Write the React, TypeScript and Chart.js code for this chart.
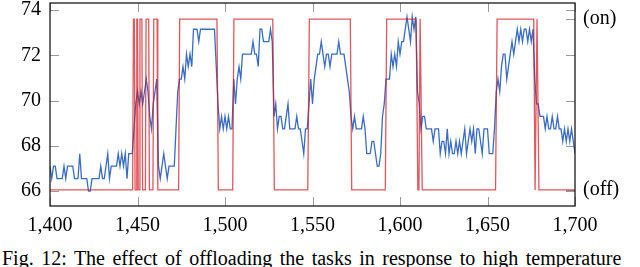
import React, { useEffect, useRef } from 'react';
import { Chart, registerables } from 'chart.js';

Chart.register(...registerables);

// ---- data ----
const xMin = 1400;
const xMax = 1700;
const xTickValues = [1400, 1450, 1500, 1550, 1600, 1650, 1700];
const yMin = 65.34;
const yMax = 74.31;
const yTickValues = [66, 68, 70, 72, 74];
const stateOn = 73.6;
const stateOff = 66.05;
const stateLabelOn = '(on)';
const stateLabelOff = '(off)';

// temperature samples, one per step starting at tempStart
const tempStart = 1400;
const temperature = [
  67.1, 66.55, 67.1, 67.1, 66.55, 66.55, 66.55, 66.55, 67.1, 66.55,
  67.1, 67.1, 67.1, 67.1, 66.55, 66.55, 66.55, 67.65, 66.55, 66.55,
  66.55, 66.55, 66.0, 66.0, 66.55, 66.55, 66.55, 66.55, 66.55, 67.1,
  66.55, 66.55, 67.1, 67.65, 66.55, 67.1, 67.1, 67.1, 67.1, 67.65,
  67.1, 67.65, 67.1, 67.65, 66.55, 67.65, 67.65, 67.65, 68.75, 69.85,
  70.4, 69.85, 70.4, 69.85, 70.4, 70.95, 70.4, 69.3, 68.75, 69.85,
  70.4, 70.95, 67.1, 66.55, 67.1, 67.65, 67.1, 66.55, 67.1, 67.1,
  67.1, 67.1, 68.75, 70.4, 70.95, 70.95, 71.5, 70.95, 72.05, 71.5,
  72.05, 71.5, 73.15, 73.15, 73.15, 72.6, 73.15, 73.15, 73.15, 73.15,
  73.15, 73.15, 73.15, 73.15, 73.15, 71.5, 69.85, 68.75, 69.3, 68.75,
  69.3, 68.75, 69.3, 68.75, 68.75, 70.95, 69.85, 70.95, 71.5, 70.95,
  72.05, 72.05, 72.05, 72.05, 72.05, 72.05, 72.6, 72.05, 72.05, 71.5,
  73.15, 73.15, 72.6, 72.6, 72.6, 72.6, 73.15, 72.6, 69.3, 69.85,
  68.75, 69.3, 69.3, 68.75, 68.75, 69.3, 69.85, 68.75, 68.75, 68.75,
  68.75, 69.3, 68.75, 68.75, 68.2, 67.65, 68.75, 68.75, 69.85, 70.95,
  69.85, 70.95, 71.5, 72.05, 72.05, 72.6, 72.05, 71.5, 72.05, 72.05,
  71.5, 72.05, 72.05, 72.05, 72.05, 72.6, 72.05, 72.05, 72.05, 71.5,
  70.95, 70.4, 69.3, 68.75, 69.3, 68.75, 68.75, 68.75, 68.75, 69.3,
  68.75, 67.65, 67.65, 67.65, 68.2, 68.2, 67.65, 67.1, 67.1, 67.65,
  69.3, 69.85, 70.95, 70.95, 70.95, 72.05, 71.5, 72.05, 71.5, 72.6,
  72.05, 72.6, 72.6, 73.15, 73.7, 73.15, 72.6, 73.7, 73.15, 73.7,
  70.4, 69.85, 68.75, 69.3, 69.3, 68.75, 68.75, 68.75, 68.75, 68.2,
  68.75, 68.75, 68.75, 67.65, 68.2, 68.2, 67.65, 68.75, 67.65, 68.2,
  67.65, 67.65, 68.2, 67.65, 68.2, 67.65, 68.2, 68.75, 67.65, 68.2,
  68.75, 68.2, 68.75, 67.65, 68.75, 68.75, 68.2, 67.65, 68.75, 68.75,
  68.75, 67.65, 67.65, 67.65, 68.75, 70.4, 70.95, 70.4, 71.5, 72.05,
  72.05, 70.95, 71.5, 72.05, 72.6, 72.05, 72.6, 73.15, 72.6, 73.15,
  72.6, 73.15, 73.15, 72.6, 73.15, 72.6, 73.15, 70.95, 69.85, 69.85,
  69.3, 69.3, 69.3, 68.75, 69.3, 68.75, 68.75, 69.3, 68.75, 68.75,
  69.3, 68.75, 68.75, 68.2, 68.75, 68.2, 68.75, 68.2, 68.75, 68.2,
  67.65,
];

// offloading switch: x positions and state (1 = on, 0 = off)
const switchX = [
  1400, 1447.2, 1447.7, 1448.2, 1448.6, 1449.2, 1449.6, 1450.0, 1450.4, 1451.0,
  1451.4, 1452.5, 1452.9, 1454.5, 1454.9, 1456.4, 1456.8, 1458.8, 1459.3, 1461.2,
  1461.6, 1473.5, 1474.1, 1495.4, 1496.2, 1504.4, 1505.1, 1527.3, 1528.2, 1547.3,
  1548.2, 1571.6, 1572.4, 1591.6, 1592.4, 1609.2, 1610.2, 1610.8, 1611.5, 1611.9,
  1612.7, 1654.6, 1655.5, 1676.4, 1677.2, 1677.6, 1678.3, 1678.6, 1679.4, 1700,
];
const switchState = [
  0, 0, 1, 1, 0, 0, 1, 1, 0, 0,
  1, 1, 0, 0, 1, 1, 0, 0, 1, 1,
  0, 0, 1, 1, 0, 0, 1, 1, 0, 0,
  1, 1, 0, 0, 1, 1, 0, 0, 1, 1,
  0, 0, 1, 1, 0, 0, 1, 1, 0, 0,
];

const caption = 'Fig. 12: The effect of offloading the tasks in response to high temperature';

const FONT = "'Liberation Serif', 'Times New Roman', serif";

const framePlugin = {
  id: 'pgfFrame',
  beforeDatasetsDraw(chart: any) {
    const { ctx, chartArea: a, scales } = chart;
    const xs = scales.x;
    const ys = scales.y;
    const len = 9;
    ctx.save();
    ctx.strokeStyle = '#9a9a9a';
    ctx.lineWidth = 1;
    ctx.beginPath();
    for (const v of xTickValues) {
      const px = Math.round(xs.getPixelForValue(v)) + 0.5;
      ctx.moveTo(px, a.top);
      ctx.lineTo(px, a.top + len);
      ctx.moveTo(px, a.bottom);
      ctx.lineTo(px, a.bottom - len);
    }
    for (const v of yTickValues) {
      const py = Math.round(ys.getPixelForValue(v)) + 0.5;
      ctx.moveTo(a.left, py);
      ctx.lineTo(a.left + len, py);
      ctx.moveTo(a.right, py);
      ctx.lineTo(a.right - len, py);
    }
    for (const v of [stateOff, stateOn]) {
      const py = Math.round(ys.getPixelForValue(v)) + 0.5;
      ctx.moveTo(a.right, py);
      ctx.lineTo(a.right - len, py);
    }
    ctx.stroke();
    ctx.restore();
  },
  afterDatasetsDraw(chart: any) {
    const { ctx, chartArea: a } = chart;
    ctx.save();
    ctx.strokeStyle = '#1a1a1a';
    ctx.lineWidth = 1.3;
    ctx.strokeRect(a.left, a.top, a.right - a.left, a.bottom - a.top);
    ctx.restore();
  },
};

export default function App() {
  const ref = useRef<HTMLCanvasElement | null>(null);

  useEffect(() => {
    if (!ref.current) return;
    const tempData = temperature.map((v, i) => ({ x: tempStart + i, y: v }));
    const switchData = switchX.map((x, i) => ({ x, y: switchState[i] ? stateOn : stateOff }));

    const chart = new Chart(ref.current, {
      type: 'line',
      data: {
        datasets: [
          {
            label: 'offloading',
            data: switchData,
            borderColor: 'rgba(212, 22, 32, 0.72)',
            borderWidth: 1.3,
            pointRadius: 0,
            tension: 0,
            order: 1,
          },
          {
            label: 'temperature',
            data: tempData,
            borderColor: '#3a6cc4',
            borderWidth: 1.3,
            pointRadius: 0,
            tension: 0,
            order: 2,
          },
        ],
      },
      options: {
        animation: false,
        responsive: false,
        devicePixelRatio: 1,
        parsing: false,
        layout: { padding: { top: 3, left: 0, right: 0, bottom: 0 } },
        plugins: {
          legend: { display: false },
          tooltip: { enabled: false },
        },
        scales: {
          x: {
            type: 'linear',
            position: 'bottom',
            min: xMin,
            max: xMax,
            grid: { display: false, drawTicks: false },
            border: { display: false },
            afterBuildTicks: (s: any) => {
              s.ticks = xTickValues.map((v) => ({ value: v }));
            },
            afterFit: (s: any) => {
              s.height = 34;
              s.paddingLeft = 0;
              s.paddingRight = 0;
            },
            ticks: {
              autoSkip: false,
              maxRotation: 0,
              padding: 8,
              color: '#000',
              font: { family: FONT, size: 20 },
              callback: (v: any) => Number(v).toLocaleString('en-US'),
            },
          },
          y: {
            type: 'linear',
            position: 'left',
            min: yMin,
            max: yMax,
            grid: { display: false, drawTicks: false },
            border: { display: false },
            afterBuildTicks: (s: any) => {
              s.ticks = yTickValues.map((v) => ({ value: v }));
            },
            afterFit: (s: any) => {
              s.width = 50;
              s.paddingTop = 0;
              s.paddingBottom = 0;
            },
            ticks: {
              padding: 9,
              color: '#000',
              font: { family: FONT, size: 20 },
              callback: (v: any) => String(v),
            },
          },
          y2: {
            type: 'linear',
            position: 'right',
            min: yMin,
            max: yMax,
            grid: { display: false, drawTicks: false },
            border: { display: false },
            afterBuildTicks: (s: any) => {
              s.ticks = [stateOff, stateOn].map((v) => ({ value: v }));
            },
            afterFit: (s: any) => {
              s.width = 65;
              s.paddingTop = 0;
              s.paddingBottom = 0;
            },
            ticks: {
              padding: 8,
              color: '#000',
              font: { family: FONT, size: 20 },
              callback: (v: any) => (Math.abs(Number(v) - stateOn) < 0.01 ? stateLabelOn : stateLabelOff),
            },
          },
        },
      },
      plugins: [framePlugin],
    });
    return () => chart.destroy();
  }, []);

  return (
    <div
      style={{
        position: 'absolute',
        left: 0,
        top: 0,
        width: 640,
        height: 267,
        overflow: 'hidden',
        background: '#fff',
      }}
    >
      <canvas ref={ref} width={640} height={240} style={{ display: 'block', width: 640, height: 240 }} />
      <div
        style={{
          position: 'absolute',
          left: 2,
          top: 248,
          fontFamily: FONT,
          fontSize: 20,
          lineHeight: '20px',
          wordSpacing: '2.5px',
          whiteSpace: 'nowrap',
          color: '#000',
        }}
      >
        {caption}
      </div>
    </div>
  );
}
